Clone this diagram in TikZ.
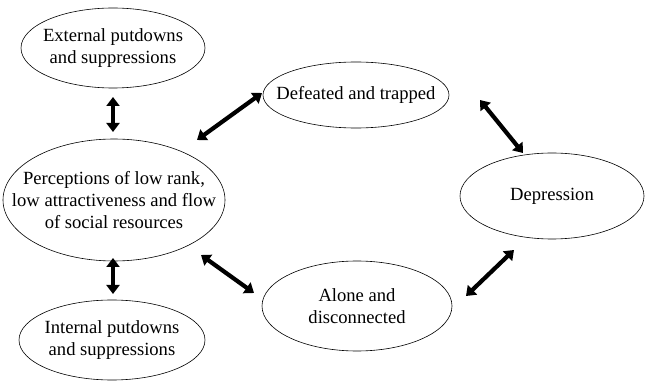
\documentclass[tikz,border=0pt]{standalone}
\usepackage{fontspec}
\setmainfont{Liberation Serif}
\usetikzlibrary{arrows.meta}
\begin{document}
\begin{tikzpicture}[x=1pt,y=-1pt,
  txt/.style={align=center,font=\fontsize{18.6}{21.8}\selectfont,inner sep=0pt},
  ring/.style={line width=0.6pt},
  link/.style={line width=4.2pt,{Triangle[length=9pt,width=13pt]}-{Triangle[length=9pt,width=13pt]}}]
\useasboundingbox (0,0) rectangle (649,385);
\node[txt] (ext) at (113,48) {External putdowns\\and suppressions};
\node[txt] (def) at (356,95) {Defeated and trapped};
\node[txt] (dep) at (552,196) {Depression};
\node[txt] (alo) at (357,306) {Alone and\\disconnected};
\node[txt] (per) at (114,200) {Perceptions of low rank,\\low attractiveness and flow\\of social resources};
\node[txt] (int) at (112,340) {Internal putdowns\\and suppressions};
\draw[ring] (ext.center) ellipse [x radius=92, y radius=40];
\draw[ring] (def.center) ellipse [x radius=93, y radius=33];
\draw[ring] (dep.center) ellipse [x radius=92, y radius=43];
\draw[ring] (alo.center) ellipse [x radius=95, y radius=45];
\draw[ring] (per.center) ellipse [x radius=111, y radius=61];
\draw[ring] (int.center) ellipse [x radius=93, y radius=40];
\coordinate (a1) at (113,97); \coordinate (a2) at (113,132);
\coordinate (b1) at (113,258); \coordinate (b2) at (113,294);
\coordinate (c1) at (197,140); \coordinate (c2) at (262,93);
\coordinate (d1) at (201,255); \coordinate (d2) at (254,293);
\coordinate (e1) at (480,100); \coordinate (e2) at (523,153);
\coordinate (f1) at (514,250); \coordinate (f2) at (466,296);
\draw[link] (a1) -- (a2);
\draw[link] (b1) -- (b2);
\draw[link] (c1) -- (c2);
\draw[link] (d1) -- (d2);
\draw[link] (e1) -- (e2);
\draw[link] (f1) -- (f2);
\end{tikzpicture}
\end{document}
